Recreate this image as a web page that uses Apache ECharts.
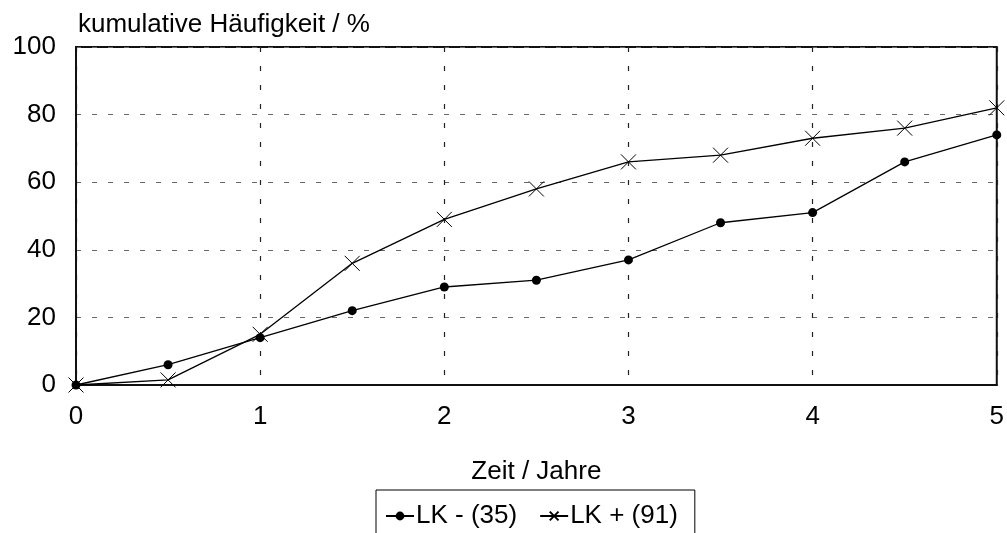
<!DOCTYPE html>
<html>
<head>
<meta charset="utf-8">
<script src="https://cdn.jsdelivr.net/npm/echarts@6/dist/echarts.min.js"></script>
<style>
  html, body { margin: 0; padding: 0; background: #fff; }
  #chart { width: 1007px; height: 533px; }
</style>
</head>
<body>
<div id="chart"></div>
<script>
// Years since diagnosis
const years = [0, 0.5, 1, 1.5, 2, 2.5, 3, 3.5, 4, 4.5, 5];
// Cumulative frequency (%) per group
const lkMinus = [0, 6, 14, 22, 29, 31, 37, 48, 51, 66, 74];
const lkPlus = [0, 1.5, 15, 36, 49, 58, 66, 68, 73, 76, 82];
const seriesNames = ['LK - (35)', 'LK + (91)'];
const xAxisTitle = 'Zeit / Jahre';
const yAxisTitle = 'kumulative Häufigkeit / %';

const FONT = '"Liberation Sans", Arial, Helvetica, sans-serif';
const FS = 26;
const crossPath = 'path://M0,0L10,10M10,0L0,10';

const pairs = (ys) => years.map((x, i) => [x, ys[i]]);

const chart = echarts.init(document.getElementById('chart'), null, { renderer: 'canvas' });
chart.setOption({
  animation: false,
  backgroundColor: '#fff',
  textStyle: { fontFamily: FONT, color: '#000' },
  grid: {
    left: 76, right: 9, top: 47, bottom: 148,
    show: true, borderColor: '#111', borderWidth: 2, backgroundColor: 'transparent'
  },
  legend: {
    top: 490,
    left: 376,
    itemGap: 22,
    itemWidth: 28,
    itemHeight: 11,
    padding: [13, 17, 30, 9],
    borderColor: '#000',
    borderWidth: 1,
    textStyle: { fontFamily: FONT, fontSize: FS, color: '#000', padding: [0, 0, 0, -3] },
    data: seriesNames
  },
  xAxis: {
    type: 'value', min: 0, max: 5, interval: 1,
    name: xAxisTitle, nameLocation: 'middle', nameGap: 74,
    nameTextStyle: { fontFamily: FONT, fontSize: FS, color: '#000' },
    axisLine: { show: true, lineStyle: { color: '#111', width: 2 } },
    axisTick: { show: false },
    axisLabel: { fontFamily: FONT, fontSize: FS, color: '#000', margin: 19 },
    splitLine: { show: true, lineStyle: { color: '#222', width: 1.2, type: [5, 14] } }
  },
  yAxis: {
    type: 'value', min: 0, max: 100, interval: 20,
    name: yAxisTitle, nameLocation: 'end', nameGap: 9,
    nameTextStyle: { fontFamily: FONT, fontSize: FS, color: '#000', align: 'left', padding: [0, 0, 0, 2] },
    axisLine: { show: true, lineStyle: { color: '#111', width: 2 } },
    axisTick: { show: false },
    axisLabel: { fontFamily: FONT, fontSize: FS, color: '#000', margin: 20, padding: [4, 0, 0, 0] },
    splitLine: { show: true, lineStyle: { color: '#666', width: 1.2, type: [5, 11] } }
  },
  series: [
    {
      name: seriesNames[0], type: 'line', data: pairs(lkMinus),
      symbol: 'circle', symbolSize: 9,
      itemStyle: { color: '#000' },
      lineStyle: { color: '#000', width: 1.3 },
      z: 3
    },
    {
      name: seriesNames[1], type: 'line', data: pairs(lkPlus),
      symbol: crossPath, symbolSize: 15,
      itemStyle: { color: 'transparent', borderColor: '#000', borderWidth: 1 },
      lineStyle: { color: '#000', width: 1.3 },
      z: 4
    }
  ]
});
</script>
</body>
</html>
